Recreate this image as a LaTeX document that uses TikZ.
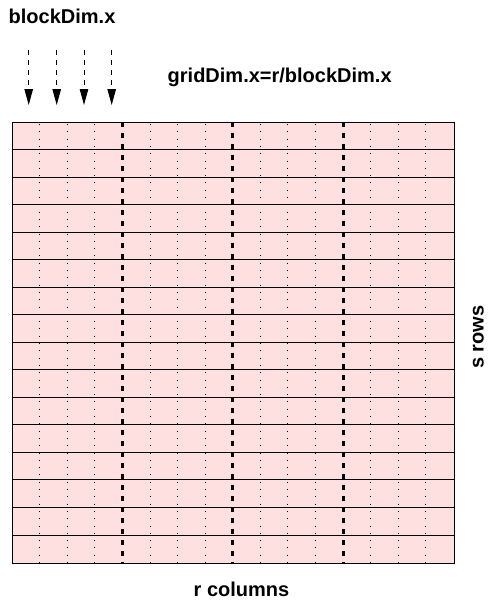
\documentclass[tikz,border=0pt]{standalone}
\usepackage{fontspec}
\setmainfont{Liberation Sans}
\usetikzlibrary{arrows.meta}
\definecolor{cellpink}{RGB}{255,224,224}
\tikzset{
  lbl/.style={font=\fontsize{20}{23}\selectfont\bfseries, inner sep=0pt, text=black},
  gridrow/.style={draw=black, line width=0.9pt},
  thinsep/.style={draw=black, line width=0.9pt, dash pattern=on 1pt off 6.3pt},
  blocksep/.style={draw=black, line width=3pt, dash pattern=on 5pt off 6pt},
  thread/.style={draw=black, line width=0.9pt, dash pattern=on 5pt off 5pt,
    -{Triangle[length=16pt,width=8.5pt]}},
}
\begin{document}
\begin{tikzpicture}[x=1pt,y=-1pt]
\useasboundingbox (0,0) rectangle (487,602);
% grid
\def\cw{27.594}\def\rh{27.53}
\fill[cellpink] (12,122) rectangle (453.5,562.5);
\foreach \i in {1,...,15}{
  \pgfmathsetmacro\xx{12+\i*\cw}
  \pgfmathtruncatemacro\m{mod(\i,4)}
  \ifnum\m=0
    \draw[blocksep] (\xx,122) -- (\xx,562.5);
  \else
    \draw[thinsep] (\xx,124) -- (\xx,562.5);
  \fi
}
\foreach \j in {1,...,15}{
  \pgfmathsetmacro\yy{122+\j*\rh}
  \draw[gridrow] (12,\yy) -- (453.5,\yy);
}
\node[draw=black, line width=1pt, minimum width=441.5pt, minimum height=440.5pt, inner sep=0pt, anchor=north west] (grid) at (12,122) {};
% labels
\node[lbl, anchor=base west] (bd) at (8.5,23.5) {blockDim.x};
\node[lbl, anchor=base west] (gd) at (167.5,82) {gridDim.x=r/blockDim.x};
\node[lbl, anchor=base] (rc) at (241.5,596.5) {r columns};
\node[lbl, rotate=90, anchor=base] (sr) at (483.5,337) {s rows};
% thread arrows
\foreach \k/\ax in {1/28.7,2/56.7,3/84,4/111.7}{
  \coordinate (t\k) at (\ax,50);
  \coordinate (h\k) at (\ax,105);
  \draw[thread] (t\k) -- (h\k);
}
\end{tikzpicture}
\end{document}
